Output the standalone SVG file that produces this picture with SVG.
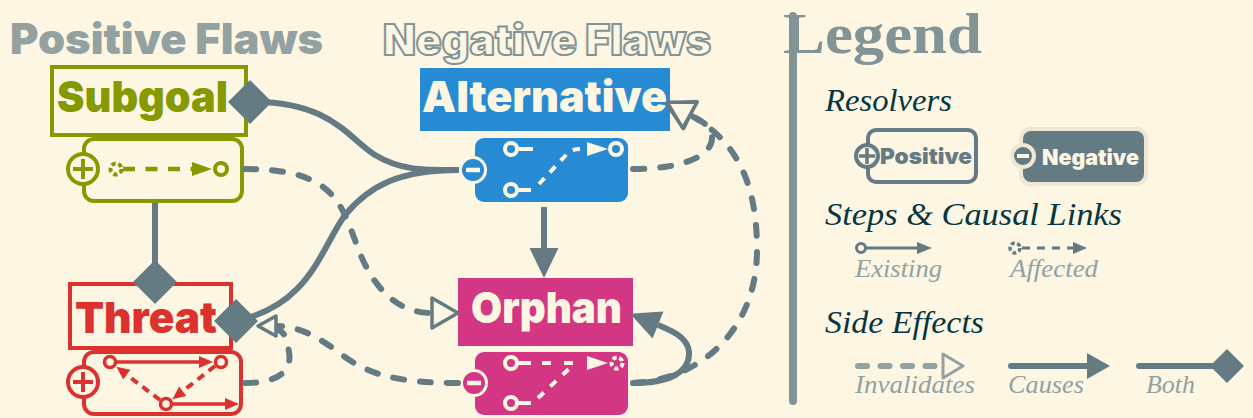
<svg xmlns="http://www.w3.org/2000/svg" width="1253" height="418" viewBox="0 0 1253 418">
<defs>
<style>
.hv{font-family:Inter,"Open Sans","Noto Sans",sans-serif;font-weight:900;}
.it{font-family:"Liberation Serif","Times New Roman",serif;font-style:italic;}
.lg{font-family:"Liberation Serif","Times New Roman",serif;font-weight:bold;}
.con{fill:none;stroke:#657b83;stroke-width:6;}
.dash{stroke-dasharray:11 16;stroke-linecap:round;}
.dia{fill:#657b83;}
.cr{fill:none;stroke:#fdf6e3;stroke-width:4;}
</style>
<marker id="inv" markerUnits="userSpaceOnUse" markerWidth="40" markerHeight="40" viewBox="-5 -20 40 40" refX="0" refY="0" orient="auto">
<path d="M0,-15 L26,0 L0,15 Z" fill="#fdf6e3" stroke="#657b83" stroke-width="3.5" stroke-linejoin="round"/>
</marker>
<marker id="invs" markerUnits="userSpaceOnUse" markerWidth="40" markerHeight="40" viewBox="-5 -20 40 40" refX="0" refY="0" orient="auto">
<path d="M0,-10 L18,0 L0,10 Z" fill="#fdf6e3" stroke="#657b83" stroke-width="3.5" stroke-linejoin="round"/>
</marker>
<marker id="cause" markerUnits="userSpaceOnUse" markerWidth="40" markerHeight="40" viewBox="-5 -20 40 40" refX="0" refY="0" orient="auto">
<path d="M0,-14.5 L30,0 L0,14.5 Z" fill="#657b83"/>
</marker>
</defs>
<rect x="0" y="0" width="1253" height="418" fill="#fdf6e3"/>

<g id="titles">
<text class="hv" x="10" y="54" font-size="42" textLength="313" lengthAdjust="spacingAndGlyphs" fill="#93a1a1">Positive Flaws</text>
<text class="hv" x="383" y="55" font-size="42" textLength="328" lengthAdjust="spacingAndGlyphs" fill="#fdf6e3" stroke="#839496" stroke-width="2">Negative Flaws</text>
</g>

<g id="subgoal">
<rect x="52" y="67" width="194" height="68" fill="#fdf6e3" stroke="#859900" stroke-width="4"/>
<text class="hv" x="57" y="112" font-size="43" textLength="171" lengthAdjust="spacingAndGlyphs" fill="#859900">Subgoal</text>
</g>
<g id="subgoal-resolver">
<rect x="84" y="139" width="158" height="62" rx="10" fill="#fdf6e3" stroke="#859900" stroke-width="4"/>
<circle cx="83" cy="169" r="15" fill="#fdf6e3" stroke="#859900" stroke-width="4"/>
<path d="M73,169 H93 M83,159 V179" stroke="#859900" stroke-width="4"/>
<circle cx="116" cy="169" r="5.5" fill="none" stroke="#859900" stroke-width="4" stroke-dasharray="4.2 2.7"/>
<path d="M123,169 H193" stroke="#859900" stroke-width="4.5" stroke-dasharray="12 10.5"/>
<polygon points="192,162 192,176 212,169" fill="#859900"/>
<circle cx="221" cy="169" r="6" fill="#fdf6e3" stroke="#859900" stroke-width="4"/>
</g>

<g id="threat">
<rect x="70" y="284" width="161" height="64" fill="#fdf6e3" stroke="#dc322f" stroke-width="4"/>
<text class="hv" x="75" y="333" font-size="43" textLength="142" lengthAdjust="spacingAndGlyphs" fill="#dc322f">Threat</text>
</g>
<g id="threat-resolver">
<rect x="84" y="352" width="157" height="62" rx="10" fill="#fdf6e3" stroke="#dc322f" stroke-width="4"/>
<circle cx="83" cy="382" r="15" fill="#fdf6e3" stroke="#dc322f" stroke-width="4"/>
<path d="M73,382 H93 M83,372 V392" stroke="#dc322f" stroke-width="4"/>
<path d="M116,362 H200" stroke="#dc322f" stroke-width="3.5"/>
<polygon points="199,356 199,368 213,362" fill="#dc322f"/>
<path d="M215,366 L183,391" stroke="#dc322f" stroke-width="4" stroke-dasharray="8 6"/>
<polygon points="186.3,396.1 179.1,386.5 172.4,399.2" fill="#dc322f"/>
<path d="M160,400 L127,375" stroke="#dc322f" stroke-width="4" stroke-dasharray="8 6"/>
<polygon points="130.4,369.8 123.2,379.4 116.4,366.8" fill="#dc322f"/>
<path d="M171,404 H226" stroke="#dc322f" stroke-width="3.5"/>
<polygon points="225,398 225,410 239,404" fill="#dc322f"/>
<circle cx="110" cy="362" r="5.5" fill="#fdf6e3" stroke="#dc322f" stroke-width="3.5"/>
<circle cx="221" cy="362" r="5.5" fill="#fdf6e3" stroke="#dc322f" stroke-width="3.5"/>
<circle cx="166" cy="404" r="5.5" fill="#fdf6e3" stroke="#dc322f" stroke-width="3.5"/>
</g>

<g id="alternative">
<rect x="420" y="68" width="250" height="63" fill="#268bd2"/>
<text class="hv" x="422" y="112" font-size="43" textLength="245" lengthAdjust="spacingAndGlyphs" fill="#fdf6e3">Alternative</text>
</g>
<g id="alternative-resolver">
<rect x="475" y="138" width="153" height="64" rx="9" fill="#268bd2"/>
<circle cx="473" cy="170" r="12.5" fill="#268bd2" stroke="#fdf6e3" stroke-width="3"/>
<path d="M466,170 H480" stroke="#fdf6e3" stroke-width="4.5"/>
<circle cx="511" cy="149" r="6" class="cr"/>
<path d="M517,149 H533" class="cr"/>
<circle cx="511" cy="190" r="6" class="cr"/>
<path d="M517,190 H531" class="cr"/>
<path d="M539,184 L566,155 Q571,149 580,149" class="cr" stroke-dasharray="8 8"/>
<polygon points="587,142 587,156 608,149" fill="#fdf6e3"/>
<circle cx="616" cy="149" r="6" class="cr"/>
</g>

<g id="orphan">
<rect x="458" y="278" width="175" height="68" fill="#d33682"/>
<text class="hv" x="471" y="323" font-size="43" textLength="151" lengthAdjust="spacingAndGlyphs" fill="#fdf6e3">Orphan</text>
</g>
<g id="orphan-resolver">
<rect x="475" y="352" width="153" height="63" rx="9" fill="#d33682"/>
<circle cx="474" cy="383" r="12.5" fill="#d33682" stroke="#fdf6e3" stroke-width="3"/>
<path d="M467,383 H481" stroke="#fdf6e3" stroke-width="4.5"/>
<circle cx="511" cy="363" r="6" class="cr"/>
<path d="M517,363 H531" class="cr"/>
<path d="M542,363 H586" class="cr" stroke-dasharray="9 13"/>
<circle cx="511" cy="403" r="6" class="cr"/>
<path d="M517,403 H531" class="cr"/>
<path d="M538,398 L573,365" class="cr" stroke-dasharray="8 9"/>
<polygon points="587,356 587,370 608,363" fill="#fdf6e3"/>
<circle cx="617" cy="363" r="5.5" fill="none" stroke="#fdf6e3" stroke-width="4" stroke-dasharray="4.2 2.7"/>
</g>

<g id="connectors">
<path class="con" d="M250,102 C330,100 350,140 375,155 C400,170 420,170 459,170"/>
<path class="con" d="M459,170 C400,170 370,185 345,215 C320,250 310,305 236,321"/>
<path class="con" d="M155,203 V282"/>
<path class="con dash" d="M245,169 C330,169 340,200 355,240 C370,285 395,313 432,313" marker-end="url(#inv)"/>
<path class="con dash" d="M245,383 C282,383 292,368 289,352 C287,340 286,332 276,329"/>
<path class="con dash" d="M458,383 C400,383 370,375 345,357 C320,338 300,326 276,326" marker-end="url(#invs)"/>
<path class="con dash" d="M633,169 C685,169 712,155 712,138 C712,128 705,122 690,115" marker-end="url(#inv)"/>
<path class="con dash" d="M633,383 C700,380 757,330 757,250 C757,180 735,140 690,115" marker-end="url(#inv)"/>
<path class="con" d="M633,383 C670,383 690,372 689,352 C688,340 678,333 658,325" marker-end="url(#cause)"/>
<path class="con" d="M544,207 V248" marker-end="url(#cause)"/>
<polygon class="dia" points="228,102 250,80 272,102 250,124"/>
<polygon class="dia" points="133,282 155,260 177,282 155,304"/>
<polygon class="dia" points="214,321 236,299 258,321 236,343"/>
</g>

<g id="legend">
<path d="M793,16 V401" stroke="#839496" stroke-width="8" stroke-linecap="round"/>
<text class="lg" x="783" y="53" font-size="58" textLength="199" lengthAdjust="spacingAndGlyphs" fill="#839496">Legend</text>
<text class="it" x="825" y="111" font-size="32" textLength="127" lengthAdjust="spacingAndGlyphs" fill="#073642">Resolvers</text>
<rect x="868" y="130" width="108" height="52" rx="8" fill="none" stroke="#657b83" stroke-width="4"/>
<circle cx="867" cy="156" r="11" fill="#fdf6e3" stroke="#657b83" stroke-width="4"/>
<path d="M859,156 H875 M867,148 V164" stroke="#657b83" stroke-width="3.5"/>
<text class="hv" x="880" y="164" font-size="22" textLength="92" lengthAdjust="spacingAndGlyphs" fill="#657b83">Positive</text>
<rect x="1019" y="127" width="129" height="59" rx="11" fill="#eee8d5"/>
<rect x="1023" y="131" width="121" height="51" rx="8" fill="#657b83"/>
<circle cx="1023" cy="156" r="11" fill="#657b83" stroke="#eee8d5" stroke-width="4"/>
<path d="M1017,156 H1029" stroke="#fdf6e3" stroke-width="4"/>
<text class="hv" x="1042" y="165" font-size="22" textLength="97" lengthAdjust="spacingAndGlyphs" fill="#fdf6e3">Negative</text>
<text class="it" x="825" y="225" font-size="32" textLength="297" lengthAdjust="spacingAndGlyphs" fill="#073642">Steps &amp; Causal Links</text>
<path d="M866,248 H918" stroke="#657b83" stroke-width="3"/>
<polygon points="917,242 917,254 932,248" fill="#657b83"/>
<circle cx="861" cy="248" r="4.5" fill="#fdf6e3" stroke="#657b83" stroke-width="3"/>
<circle cx="1015" cy="248" r="5" fill="none" stroke="#657b83" stroke-width="3.5" stroke-dasharray="3.8 2.5"/>
<path d="M1022,248 H1075" stroke="#657b83" stroke-width="3" stroke-dasharray="8 7"/>
<polygon points="1073,242 1073,254 1087,248" fill="#657b83"/>
<text class="it" x="855" y="277" font-size="26" textLength="87" lengthAdjust="spacingAndGlyphs" fill="#93a1a1">Existing</text>
<text class="it" x="1010" y="277" font-size="26" textLength="88" lengthAdjust="spacingAndGlyphs" fill="#93a1a1">Affected</text>
<text class="it" x="825" y="333" font-size="32" textLength="159" lengthAdjust="spacingAndGlyphs" fill="#073642">Side Effects</text>
<path d="M858,366 H940" stroke="#93a1a1" stroke-width="6" stroke-linecap="round" stroke-dasharray="9 13.5"/>
<polygon points="943,354 943,378 963,366" fill="#fdf6e3" stroke="#93a1a1" stroke-width="3" stroke-linejoin="round"/>
<path d="M1011,366 H1090" stroke="#657b83" stroke-width="6" stroke-linecap="round"/>
<polygon points="1087,353 1087,379 1110,366" fill="#657b83"/>
<path d="M1139,366 H1215" stroke="#657b83" stroke-width="6" stroke-linecap="round"/>
<polygon points="1210,366 1227,349 1244,366 1227,383" fill="#657b83"/>
<text class="it" x="855" y="393" font-size="25" textLength="120" lengthAdjust="spacingAndGlyphs" fill="#93a1a1">Invalidates</text>
<text class="it" x="1008" y="393" font-size="25" textLength="76" lengthAdjust="spacingAndGlyphs" fill="#93a1a1">Causes</text>
<text class="it" x="1146" y="393" font-size="25" textLength="49" lengthAdjust="spacingAndGlyphs" fill="#93a1a1">Both</text>
</g>
</svg>
